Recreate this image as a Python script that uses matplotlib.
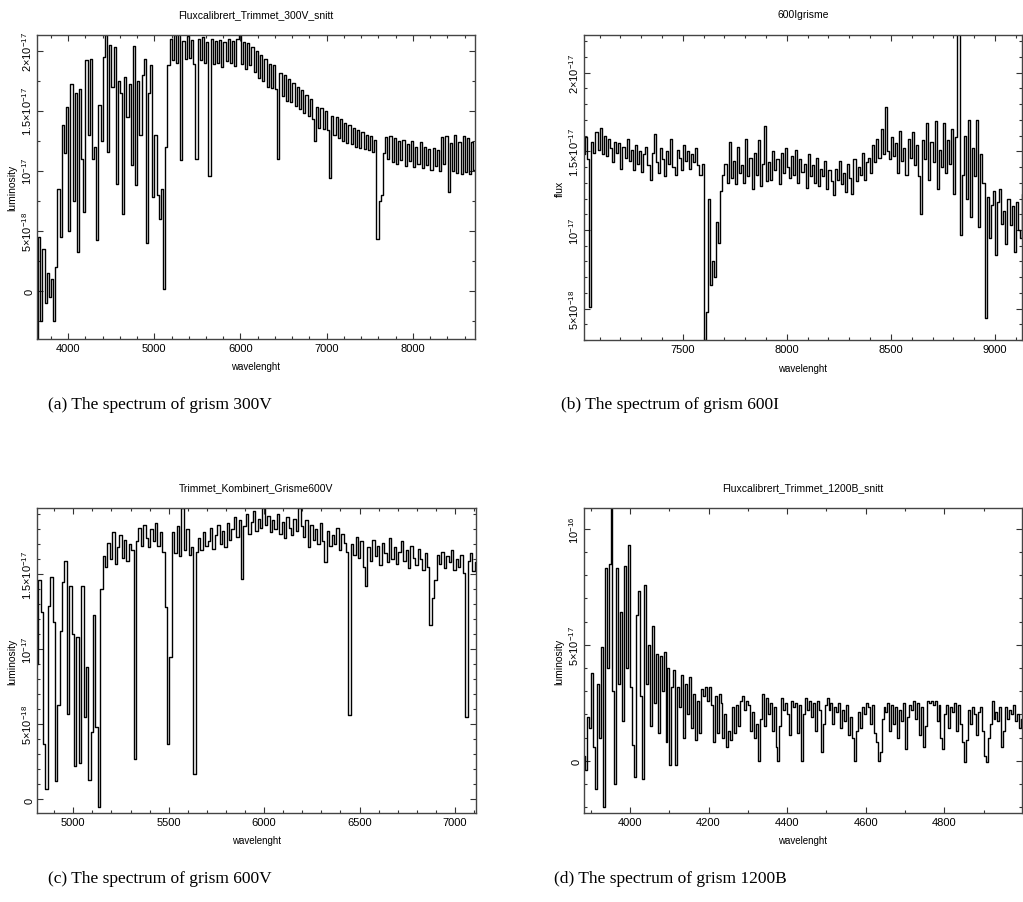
import numpy as np
import matplotlib.pyplot as plt
from matplotlib.ticker import FixedLocator, FixedFormatter, MultipleLocator

plt.rcParams['font.family'] = ['Liberation Sans', 'DejaVu Sans']
plt.rcParams['mathtext.fontset'] = 'custom'
plt.rcParams['mathtext.rm'] = 'Liberation Sans'
plt.rcParams['mathtext.it'] = 'Liberation Sans:italic'

# --- data: flux samples on a linear wavelength grid (start, step in Angstrom) ---
# (a) grism 300V, flux in 1e-18
start_300v, step_300v = 3640, 25
flux_300v = [
    -4.0, 4.5, -2.5, 3.5, -1.0, 1.5, -0.5, 1.0, -2.5, 2.0,
    8.5, 4.5, 13.8, 11.5, 15.3, 5.0, 17.2, 7.5, 16.5, 3.2,
    16.8, 11.0, 6.6, 19.2, 13.0, 19.3, 11.0, 12.0, 4.2, 15.5,
    12.5, 19.5, 21.3, 11.6, 20.5, 17.0, 20.3, 8.9, 17.5, 16.5,
    6.4, 17.8, 14.5, 17.2, 10.5, 20.4, 8.8, 17.5, 13.0, 18.0,
    19.3, 4.0, 16.5, 18.8, 7.8, 13.0, 8.0, 6.0, 8.5, 0.2,
    12.0, 18.8, 21.0, 19.2, 21.3, 19.0, 21.6, 10.9, 20.8, 19.3,
    21.2, 19.4, 20.9, 18.9, 11.0, 21.0, 19.2, 21.1, 19.0, 20.7,
    9.6, 21.0, 18.9, 20.8, 19.0, 20.9, 18.6, 20.7, 19.1, 21.0,
    19.0, 20.8, 18.7, 21.0, 21.6, 18.9, 20.7, 18.5, 20.6, 18.8,
    20.3, 18.2, 20.0, 17.7, 19.6, 17.5, 19.3, 17.0, 18.9, 16.9,
    18.8, 16.8, 11.0, 18.1, 16.2, 18.0, 15.8, 17.6, 15.7, 17.3,
    15.4, 17.0, 15.1, 16.7, 14.8, 16.3, 14.6, 16.0, 14.3, 12.5,
    15.3, 13.6, 15.2, 13.5, 15.0, 13.4, 9.4, 14.6, 13.0, 14.5,
    12.7, 14.3, 12.5, 14.0, 12.3, 13.8, 12.2, 13.6, 12.0, 13.4,
    11.9, 13.2, 11.8, 13.0, 11.7, 12.9, 11.6, 12.6, 4.3, 7.5,
    8.0, 11.5, 12.8, 11.0, 12.9, 10.7, 12.7, 10.6, 12.5, 10.9,
    12.6, 10.4, 12.2, 10.8, 12.5, 10.3, 12.0, 10.6, 12.4, 10.2,
    12.0, 10.5, 11.8, 10.1, 11.9, 10.4, 11.7, 10.0, 12.8, 10.6,
    12.9, 8.2, 12.3, 10.0, 13.0, 9.8, 12.4, 9.7, 12.9, 9.9,
    12.7, 9.7, 12.4, 10.1,
]

# (b) grism 600I, flux in 1e-18
start_600i, step_600i = 7025, 10
flux_600i = [
    14.8, 15.9, 14.5, 5.1, 15.6, 14.9, 16.2, 15.1, 16.5, 14.8,
    16.0, 14.7, 15.8, 15.2, 14.3, 15.6, 14.9, 15.5, 13.9, 15.3,
    14.6, 15.8, 14.4, 15.1, 13.8, 15.4, 14.2, 15.0, 13.7, 14.8,
    15.3, 14.1, 13.2, 14.9, 16.1, 14.3, 13.6, 15.2, 14.5, 13.4,
    15.0, 14.2, 15.8, 14.0, 13.5, 15.1, 14.6, 13.8, 15.4, 14.4,
    15.0, 13.9, 14.8, 14.3, 15.2, 14.1, 13.5, 14.2, 3.0, 4.8,
    12.0, 6.5, 8.0, 7.0, 10.5, 9.2, 12.5, 13.5, 14.2, 13.0,
    15.6, 13.3, 14.4, 12.9, 15.3, 13.6, 14.1, 13.0, 15.8, 13.4,
    14.6, 12.6, 14.9, 13.5, 15.7, 12.8, 14.2, 16.6, 13.1, 14.3,
    13.2, 15.0, 13.8, 14.5, 12.9, 14.9, 13.6, 15.2, 14.0, 13.3,
    14.7, 13.5, 15.1, 13.0, 14.5, 13.7, 14.2, 12.7, 14.8, 13.4,
    14.1, 13.0, 14.6, 12.8, 13.9, 13.4, 14.4, 12.6, 13.8, 13.1,
    12.2, 13.9, 13.2, 14.4, 12.9, 13.6, 12.4, 14.2, 13.3, 12.3,
    14.5, 13.1, 14.0, 13.5, 14.9, 13.2, 14.3, 14.6, 13.6, 15.4,
    14.3, 15.8, 14.6, 16.4, 14.8, 17.8, 15.0, 14.5, 15.9, 14.7,
    15.5, 13.6, 16.3, 14.4, 15.2, 13.5, 15.8, 14.6, 16.2, 14.1,
    15.4, 13.4, 11.0, 15.7, 14.5, 16.8, 13.2, 15.6, 14.3, 16.9,
    12.6, 15.1, 14.0, 16.8, 13.6, 15.7, 14.2, 16.4, 12.3, 15.9,
    24.0, 9.7, 13.5, 16.0, 12.0, 17.0, 10.8, 15.2, 13.4, 17.0,
    10.2, 14.8, 13.0, 4.4, 12.1, 9.5, 11.6, 12.5, 8.4, 11.8,
    12.6, 10.4, 11.2, 9.1, 12.0, 10.3, 11.5, 8.6, 11.8, 10.0,
    9.5, 12.3,
]

# (c) grism 600V, flux in 1e-18
start_600v, step_600v = 4810, 12.5
flux_600v = [
    9.0, 14.6, 12.5, 3.7, 0.7, 12.9, 14.8, 11.8, 1.2, 6.3,
    11.2, 14.5, 15.9, 5.7, 14.2, 11.0, 2.2, 10.8, 2.4, 14.2,
    5.5, 8.8, 1.3, 4.5, 12.3, 4.8, -0.5, 14.0, 16.2, 15.5,
    17.1, 16.0, 17.8, 15.7, 16.8, 17.6, 16.1, 17.3, 15.9, 17.0,
    16.6, 2.7, 17.2, 18.1, 16.9, 18.3, 17.4, 16.8, 18.0, 17.2,
    18.4, 16.9, 17.8, 16.5, 12.8, 3.7, 9.5, 17.8, 16.4, 18.2,
    16.2, 19.4, 16.6, 18.0, 16.3, 16.8, 1.7, 16.5, 17.4, 16.6,
    17.8, 16.9, 17.2, 18.1, 16.7, 17.6, 18.3, 17.0, 17.9, 16.8,
    18.4, 17.3, 18.0, 18.8, 17.5, 18.6, 14.7, 18.2, 19.0, 17.7,
    18.5, 19.2, 17.9, 18.7, 18.1, 19.4, 18.3, 18.9, 17.8, 18.6,
    18.0, 19.0, 17.7, 18.5, 17.4, 18.8, 18.1, 17.6, 18.7, 17.9,
    19.4, 18.2, 17.5, 18.6, 16.8, 18.3, 17.3, 18.0, 17.0, 18.4,
    17.2, 15.8, 17.9, 16.9, 17.6, 17.0, 18.1, 16.6, 17.7, 17.1,
    16.5, 5.6, 17.0, 16.3, 17.5, 16.1, 17.2, 15.5, 14.2, 16.8,
    15.9, 17.3, 16.2, 16.9, 15.6, 17.1, 16.4, 15.8, 17.4, 16.0,
    16.8, 15.7, 16.5, 17.2, 15.9, 16.6, 15.4, 16.9, 16.1, 15.6,
    16.7, 16.0, 15.3, 16.4, 15.5, 11.6, 13.4, 14.6, 16.3, 15.7,
    16.5, 15.4, 16.2, 15.8, 16.6, 15.3, 16.0, 15.5, 16.3, 15.1,
    5.5, 15.9, 16.4, 15.2, 15.8,
]

# (d) grism 1200B, flux in 1e-17
start_1200b, step_1200b = 3883, 5
flux_1200b = [
    0.2, -0.4, 1.9, 1.4, 3.8, 0.6, -1.2, 3.3, 1.0, 4.9,
    -2.0, 8.3, 4.0, 8.5, 11.5, 3.0, -1.0, 8.3, 3.3, 6.4,
    1.7, 8.4, 4.0, 9.3, 3.2, 0.7, -0.7, 6.3, 7.3, 2.8,
    -0.8, 7.6, 3.3, 5.0, 1.5, 5.8, 2.5, 4.6, 1.2, 4.5,
    3.0, 4.7, 0.8, 4.0, -0.2, 3.2, 3.9, -0.2, 3.2, 2.3,
    3.7, 1.0, 3.3, 2.0, 3.6, 1.4, 2.9, 0.9, 2.6, 1.2,
    3.1, 2.8, 3.2, 2.6, 3.2, 2.4, 0.8, 2.8, 1.2, 2.9,
    2.5, 1.0, 2.0, 0.6, 1.3, 0.9, 2.3, 1.2, 2.4, 1.5,
    2.6, 2.8, 2.2, 2.6, 2.4, 1.3, 2.1, 1.0, 1.6, 0.0,
    1.8, 2.9, 1.5, 2.7, 2.0, 2.5, 1.3, 2.3, 0.6, 0.0,
    1.5, 2.7, 2.2, 2.5, 2.0, 1.1, 2.6, 2.3, 2.5, 1.2,
    2.4, 0.0, 2.0, 2.7, 2.2, 2.6, 1.9, 2.5, 1.3, 2.6,
    2.2, 0.4, 1.6, 2.4, 2.7, 2.2, 2.5, 1.6, 2.3, 2.1,
    2.5, 1.4, 2.2, 1.7, 2.4, 1.1, 1.9, 1.0, 0.0, 1.3,
    2.1, 1.4, 2.3, 2.0, 2.5, 2.3, 1.6, 2.4, 1.2, 0.8,
    0.0, 0.4, 1.8, 2.3, 2.1, 2.5, 1.3, 2.4, 1.6, 2.3,
    1.0, 2.2, 1.7, 2.5, 0.5, 1.9, 2.4, 2.2, 2.6, 1.8,
    2.5, 1.1, 2.3, 0.6, 1.5, 2.6, 2.5, 2.6, 2.4, 2.6,
    1.7, 2.4, 1.0, 0.5, 2.0, 2.4, 1.4, 2.3, 2.1, 2.5,
    1.3, 2.4, 1.6, 0.8, -0.05, 0.9, 2.2, 1.6, 2.3, 2.0,
    1.1, 2.1, 2.3, 1.3, 0.2, -0.05, 1.0, 1.6, 2.6, 1.8,
    2.1, 1.7, 2.3, 0.6, 1.3, 2.3, 1.8, 2.2, 2.0, 2.4,
    1.7, 2.0, 1.4, 1.8,
]

titles = ['Fluxcalibrert_Trimmet_300V_snitt', '600Igrisme',
          'Trimmet_Kombinert_Grisme600V', 'Fluxcalibrert_Trimmet_1200B_snitt']
ylabels = ['luminosity', 'flux', 'luminosity', 'luminosity']
captions = ['(a) The spectrum of grism 300V', '(b) The spectrum of grism 600I',
            '(c) The spectrum of grism 600V', '(d) The spectrum of grism 1200B']

ytick_a = [0, 5e-18, 1e-17, 1.5e-17, 2e-17]
ytick_b = [5e-18, 1e-17, 1.5e-17, 2e-17]
ytick_c = [0, 5e-18, 1e-17, 1.5e-17]
ytick_d = [0, 5e-17, 1e-16]
ylab_a = ['0', r'$5{\times}10^{-18}$', r'$10^{-17}$', r'$1.5{\times}10^{-17}$', r'$2{\times}10^{-17}$']
ylab_b = [r'$5{\times}10^{-18}$', r'$10^{-17}$', r'$1.5{\times}10^{-17}$', r'$2{\times}10^{-17}$']
ylab_c = ['0', r'$5{\times}10^{-18}$', r'$10^{-17}$', r'$1.5{\times}10^{-17}$']
ylab_d = ['0', r'$5{\times}10^{-17}$', r'$10^{-16}$']


def draw_spectrum(ax, start, step, flux, unit, xlim, ylim, xmajor, xminor,
                  yticks, ylabs, yminor, title, ylabel):
    wave = start + step * np.arange(len(flux))
    ax.plot(wave, np.array(flux) * unit, color='black', lw=1.0,
            drawstyle='steps-mid')
    ax.set_xlim(*xlim)
    ax.set_ylim(*ylim)
    ax.xaxis.set_major_locator(MultipleLocator(xmajor))
    ax.xaxis.set_minor_locator(MultipleLocator(xminor))
    ax.yaxis.set_major_locator(FixedLocator(yticks))
    ax.yaxis.set_major_formatter(FixedFormatter(ylabs))
    ax.yaxis.set_minor_locator(MultipleLocator(yminor))
    ax.tick_params(which='both', direction='in', top=True, right=True,
                   color='#333333', width=0.8, labelsize=8)
    ax.tick_params(which='major', length=4.5, pad=3)
    ax.tick_params(which='minor', length=2.5)
    ax.tick_params(axis='y', pad=2)
    for lbl in ax.get_yticklabels():
        lbl.set_rotation(90)
        lbl.set_va('center')
    for sp in ax.spines.values():
        sp.set_color('#444444')
        sp.set_linewidth(1.0)
    ax.set_title(title, fontsize=7.5, pad=13)
    ax.set_xlabel('wavelenght', fontsize=7, labelpad=6)
    ax.set_ylabel(ylabel, fontsize=7.5, labelpad=2)


fig = plt.figure(figsize=(10.23, 9.03), dpi=100)
W, H = 1023, 903


def box(left, top, right, bottom):
    return [left / W, 1 - bottom / H, (right - left) / W, (bottom - top) / H]


ax_a = fig.add_axes(box(37, 36, 475, 340))
ax_b = fig.add_axes(box(584, 36, 1022, 341))
ax_c = fig.add_axes(box(37, 509, 476, 814))
ax_d = fig.add_axes(box(584, 509, 1022, 814))

draw_spectrum(ax_a, start_300v, step_300v, flux_300v, 1e-18, (3640, 8720),
              (-4e-18, 2.13e-17), 1000, 200, ytick_a, ylab_a, 2.5e-18,
              titles[0], ylabels[0])
draw_spectrum(ax_b, start_600i, step_600i, flux_600i, 1e-18, (7025, 9130),
              (3.0e-18, 2.24e-17), 500, 100, ytick_b, ylab_b, 1e-18,
              titles[1], ylabels[1])
draw_spectrum(ax_c, start_600v, step_600v, flux_600v, 1e-18, (4810, 7110),
              (-0.9e-18, 1.94e-17), 500, 100, ytick_c, ylab_c, 1e-18,
              titles[2], ylabels[2])
draw_spectrum(ax_d, start_1200b, step_1200b, flux_1200b, 1e-17, (3883, 4998),
              (-2.25e-17, 1.09e-16), 200, 100, ytick_d, ylab_d, 1e-17,
              titles[3], ylabels[3])

cap_pos = [(160, 405), (670, 405), (160, 879), (670, 879)]
for (cx, cy), cap in zip(cap_pos, captions):
    fig.text(cx / W, 1 - cy / H, cap, ha='center', va='center',
             family='Liberation Serif', fontsize=12.5)

fig.savefig('out.png', dpi=100)
